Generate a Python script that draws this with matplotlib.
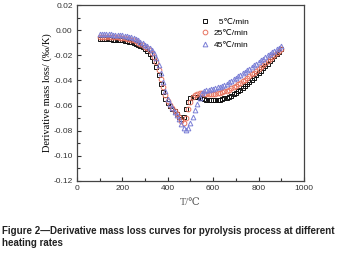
import numpy as np
import matplotlib
matplotlib.use("Agg")
import matplotlib.pyplot as plt
from matplotlib.ticker import MultipleLocator

plt.rcParams['axes.unicode_minus'] = False
sans = ['Liberation Sans', 'DejaVu Sans']
serif = ['Liberation Serif', 'DejaVu Serif']

# temperature grid (deg C) and DTG values (%/K) for each heating rate
temp = np.arange(100, 901, 10)

rate_5 = [-0.0070, -0.0070, -0.0071, -0.0071, -0.0072, -0.0073, -0.0074, -0.0075, -0.0076, -0.0078,
          -0.0080, -0.0083, -0.0086, -0.0090, -0.0095, -0.0101, -0.0108, -0.0116, -0.0126, -0.0137,
          -0.0150, -0.0166, -0.0186, -0.0212, -0.0247, -0.0295, -0.0360, -0.0430, -0.0495, -0.0545,
          -0.0580, -0.0605, -0.0625, -0.0645, -0.0665, -0.0688, -0.0705, -0.0690, -0.0630, -0.0570,
          -0.0540, -0.0530, -0.0530, -0.0533, -0.0538, -0.0543, -0.0548, -0.0552, -0.0555, -0.0556,
          -0.0557, -0.0556, -0.0555, -0.0552, -0.0548, -0.0543, -0.0537, -0.0529, -0.0520, -0.0510,
          -0.0499, -0.0486, -0.0473, -0.0459, -0.0444, -0.0428, -0.0412, -0.0395, -0.0378, -0.0360,
          -0.0342, -0.0323, -0.0304, -0.0285, -0.0266, -0.0247, -0.0228, -0.0209, -0.0190, -0.0171,
          -0.0152]

rate_25 = [-0.0050, -0.0050, -0.0051, -0.0051, -0.0052, -0.0053, -0.0054, -0.0055, -0.0056, -0.0058,
           -0.0060, -0.0063, -0.0066, -0.0070, -0.0075, -0.0081, -0.0089, -0.0098, -0.0108, -0.0119,
           -0.0131, -0.0144, -0.0160, -0.0182, -0.0212, -0.0255, -0.0315, -0.0385, -0.0455, -0.0515,
           -0.0560, -0.0592, -0.0617, -0.0640, -0.0663, -0.0690, -0.0720, -0.0735, -0.0700, -0.0630,
           -0.0570, -0.0530, -0.0512, -0.0505, -0.0503, -0.0503, -0.0505, -0.0507, -0.0508, -0.0508,
           -0.0507, -0.0505, -0.0502, -0.0498, -0.0493, -0.0487, -0.0480, -0.0472, -0.0463, -0.0453,
           -0.0442, -0.0431, -0.0419, -0.0406, -0.0393, -0.0380, -0.0366, -0.0352, -0.0337, -0.0322,
           -0.0307, -0.0291, -0.0275, -0.0259, -0.0243, -0.0227, -0.0211, -0.0195, -0.0179, -0.0163,
           -0.0148]

rate_45 = [-0.0030, -0.0030, -0.0031, -0.0031, -0.0032, -0.0033, -0.0034, -0.0035, -0.0036, -0.0038,
           -0.0040, -0.0043, -0.0046, -0.0050, -0.0055, -0.0061, -0.0070, -0.0080, -0.0092, -0.0103,
           -0.0115, -0.0127, -0.0141, -0.0160, -0.0185, -0.0222, -0.0275, -0.0340, -0.0415, -0.0485,
           -0.0545, -0.0590, -0.0622, -0.0648, -0.0673, -0.0705, -0.0745, -0.0780, -0.0792, -0.0775,
           -0.0740, -0.0690, -0.0635, -0.0585, -0.0538, -0.0502, -0.0485, -0.0477, -0.0472, -0.0468,
           -0.0464, -0.0460, -0.0455, -0.0449, -0.0442, -0.0434, -0.0425, -0.0415, -0.0404, -0.0392,
           -0.0380, -0.0368, -0.0356, -0.0343, -0.0330, -0.0318, -0.0305, -0.0292, -0.0279, -0.0266,
           -0.0253, -0.0240, -0.0227, -0.0214, -0.0201, -0.0188, -0.0175, -0.0162, -0.0150, -0.0138,
           -0.0128]

labels = ['  5\u2103/min', '25\u2103/min', '45\u2103/min']

fig = plt.figure(figsize=(3.51, 2.56), dpi=100)
ax = fig.add_axes([0.219, 0.293, 0.647, 0.687])

ax.plot(temp, rate_5, 's', ms=3.4, mfc='none', mec='#111111', mew=0.7, label=labels[0])
ax.plot(temp, rate_25, 'o', ms=3.4, mfc='none', mec='#e8735f', mew=0.7, label=labels[1])
ax.plot(temp, rate_45, '^', ms=3.4, mfc='none', mec='#7b7fd6', mew=0.7, label=labels[2])

ax.set_xlim(0, 1000)
ax.set_ylim(-0.12, 0.02)
ax.xaxis.set_major_locator(MultipleLocator(200))
ax.xaxis.set_minor_locator(MultipleLocator(100))
ax.yaxis.set_major_locator(MultipleLocator(0.02))
ax.yaxis.set_minor_locator(MultipleLocator(0.01))
ax.yaxis.set_major_formatter(plt.FuncFormatter(lambda v, p: '%.2f' % v))
ax.tick_params(which='both', direction='in', labelsize=6, colors='#333333', pad=3)
ax.tick_params(which='major', length=3, width=0.8)
ax.tick_params(which='minor', length=2, width=0.8)
for t in ax.get_xticklabels() + ax.get_yticklabels():
    t.set_family(sans)
for s in ax.spines.values():
    s.set_color('#444444')
    s.set_linewidth(0.9)

ax.set_xlabel('T/\u2103', family=serif, fontsize=7.5, color='#555555', labelpad=4)
ax.set_ylabel('Derivative mass loss/ (\u2030/K)', family=serif, fontsize=7.5, labelpad=1)

leg = ax.legend(loc='upper right', bbox_to_anchor=(0.79, 0.97), frameon=False,
                prop={'family': sans, 'size': 6}, handletextpad=0.6, labelspacing=0.45,
                handlelength=1.0, markerscale=1.0)

fig.text(0.006, 0.04, 'Figure 2\u2014Derivative mass loss curves for pyrolysis process at different\nheating rates',
         family=sans, fontsize=7.05, fontweight='bold', color='#222222', linespacing=1.2)

fig.savefig('out.png', dpi=100)
